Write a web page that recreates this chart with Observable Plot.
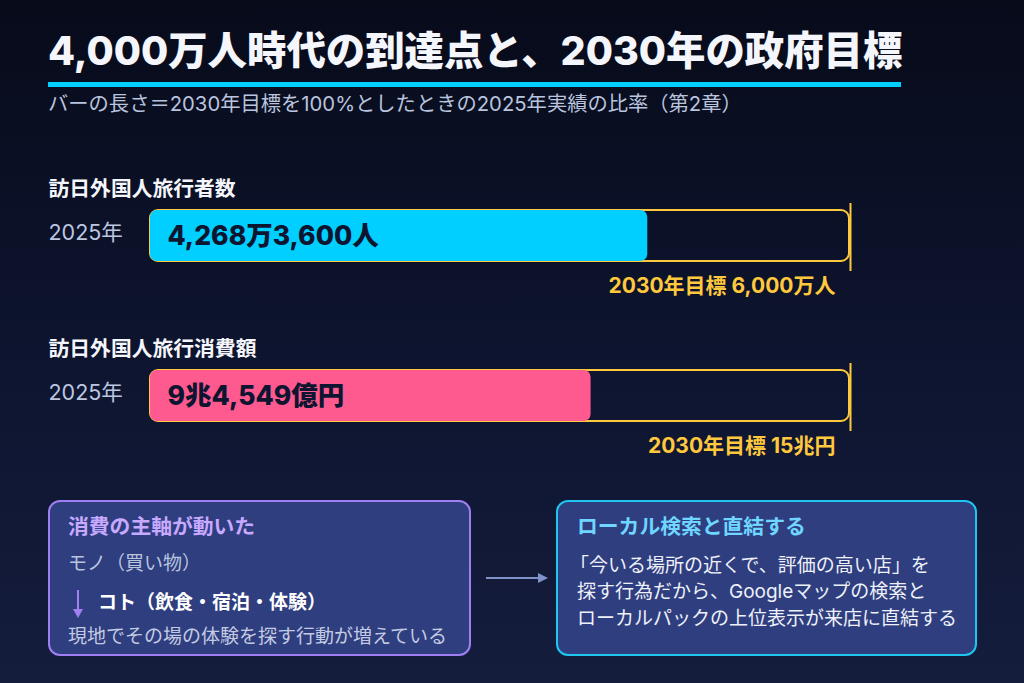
<!DOCTYPE html>
<html><head><meta charset="utf-8">
<script src="https://cdn.jsdelivr.net/npm/d3@7"></script>
<script src="https://cdn.jsdelivr.net/npm/@observablehq/plot@0.6"></script>
<style>
html,body{margin:0;padding:0;}
body{width:1024px;height:683px;overflow:hidden;background:linear-gradient(180deg,#070b1a 0%,#0e1530 55%,#151d3d 100%);font-family:Inter,"Noto Sans CJK JP",sans-serif;color:#fff;position:relative;}
.abs{position:absolute;white-space:nowrap;}
#title{left:48px;top:27px;font-size:39.4px;font-weight:800;line-height:48px;color:#f4f6fb;}
#rule{left:48px;top:82px;width:853px;height:5px;background:#00cfff;}
#sub{left:48px;top:91px;font-size:20.3px;line-height:26px;color:#b9c4df;}
#chart{left:0;top:160px;}
.box{position:absolute;top:500px;height:156px;border-radius:12px;background:#2f3e7f;box-sizing:border-box;}
#b1{left:48px;width:423px;border:2px solid #a07ff2;}
#b2{left:556px;width:421px;border:2px solid #1fc6f0;}
.t{position:absolute;white-space:nowrap;line-height:26px;}
</style></head>
<body>
<div class="abs" id="title"></div>
<div class="abs" id="rule"></div>
<div class="abs" id="sub"></div>
<div class="abs" id="chart"></div>
<div class="box" id="b1"></div>
<div class="box" id="b2"></div>
<div id="notes"></div>
<script>
const titleText = "4,000万人時代の到達点と、2030年の政府目標";
const subtitleText = "バーの長さ＝2030年目標を100%としたときの2025年実績の比率（第2章）";
const metrics = ["訪日外国人旅行者数", "訪日外国人旅行消費額"];
const actualValues = [4268.36, 94549];          // 万人, 億円
const targetValues = [6000, 150000];            // 万人, 億円
const actualLabels = ["4,268万3,600人", "9兆4,549億円"];
const targetLabels = ["2030年目標 6,000万人", "2030年目標 15兆円"];
const yearLabel = "2025年";
const barColors = ["#00cfff", "#ff5a8f"];

document.getElementById("title").textContent = titleText;
document.getElementById("sub").textContent = subtitleText;

const rows = metrics.map((m, i) => ({
  metric: m,
  pct: actualValues[i] / targetValues[i] * 100,
  actualLabel: actualLabels[i],
  targetLabel: targetLabels[i],
  color: barColors[i]
}));

const chart = Plot.plot({
  width: 1024,
  height: 300,
  marginLeft: 150,
  marginRight: 175,
  marginTop: 0,
  marginBottom: 0,
  style: {background: "transparent", fontFamily: "Inter, 'Noto Sans CJK JP', sans-serif", overflow: "visible"},
  x: {domain: [0, 100], axis: null},
  y: {type: "band", domain: metrics, range: [50, 261.2], paddingInner: 0.68, paddingOuter: 0, axis: null},
  marks: [
    Plot.barX(rows, {x1: 0, x2: 100, y: "metric", fill: "none", stroke: "#ffc83d", strokeWidth: 2, rx: 8}),
    Plot.tickX(rows, {x: 100, y: "metric", stroke: "#ffc83d", strokeWidth: 2, dx: 1, insetTop: -7, insetBottom: -10}),
    Plot.barX(rows, {x1: 0, x2: "pct", y: "metric", fill: "color", rx: 7}),
    Plot.text(rows, {x: 0, y: "metric", text: "metric", textAnchor: "start", dx: -102, dy: -47, fill: "#f4f6fb", fontSize: 20.8, fontWeight: 700}),
    Plot.text(rows, {x: 0, y: "metric", text: () => yearLabel, textAnchor: "start", dx: -102, dy: -3, fill: "#bcc6e0", fontSize: 21.5}),
    Plot.text(rows, {x: 0, y: "metric", text: "actualLabel", textAnchor: "start", dx: 17, dy: 1, fill: "#0d1530", fontSize: 26.5, fontWeight: 800}),
    Plot.text(rows, {x: 100, y: "metric", text: "targetLabel", textAnchor: "end", dx: -14, dy: 50, fill: "#ffc83d", fontSize: 21, fontWeight: 700})
  ]
});
document.getElementById("chart").appendChild(chart);

const notes = [
  {x: 68, y: 514, size: 20.8, text: "消費の主軸が動いた", color: "#c7a9ff", weight: 700},
  {x: 68, y: 551, size: 19, text: "モノ（買い物）", color: "#b9c4df", weight: 400},
  {x: 98, y: 590, size: 19, text: "コト（飲食・宿泊・体験）", color: "#ffffff", weight: 700},
  {x: 68, y: 624, size: 19, text: "現地でその場の体験を探す行動が増えている", color: "#c3cbe3", weight: 400},
  {x: 577, y: 514, size: 20.8, text: "ローカル検索と直結する", color: "#6fd6ff", weight: 700},
  {x: 570, y: 553, size: 19, text: "「今いる場所の近くで、評価の高い店」を", color: "#eef1fa", weight: 400},
  {x: 577, y: 579, size: 19, text: "探す行為だから、Googleマップの検索と", color: "#eef1fa", weight: 400},
  {x: 577, y: 606, size: 19, text: "ローカルパックの上位表示が来店に直結する", color: "#eef1fa", weight: 400}
];
const nd = document.getElementById("notes");
notes.forEach(n => {
  const d = document.createElement("div");
  d.className = "t";
  d.style.left = n.x + "px"; d.style.top = n.y + "px";
  d.style.fontSize = n.size + "px";
  d.style.color = n.color; d.style.fontWeight = n.weight;
  d.textContent = n.text;
  nd.appendChild(d);
});
// decorative arrows
nd.insertAdjacentHTML("beforeend",
  `<svg style="position:absolute;left:0;top:0" width="1024" height="683">
     <line x1="78" y1="590" x2="78" y2="611" stroke="#a07ff2" stroke-width="2"/>
     <path d="M73,609 L83,609 L78,618 Z" fill="#a07ff2"/>
     <line x1="486" y1="578" x2="540" y2="578" stroke="#7f93c8" stroke-width="2"/>
     <path d="M538,573 L548,578 L538,583 Z" fill="#7f93c8"/>
   </svg>`);
</script>
</body></html>
